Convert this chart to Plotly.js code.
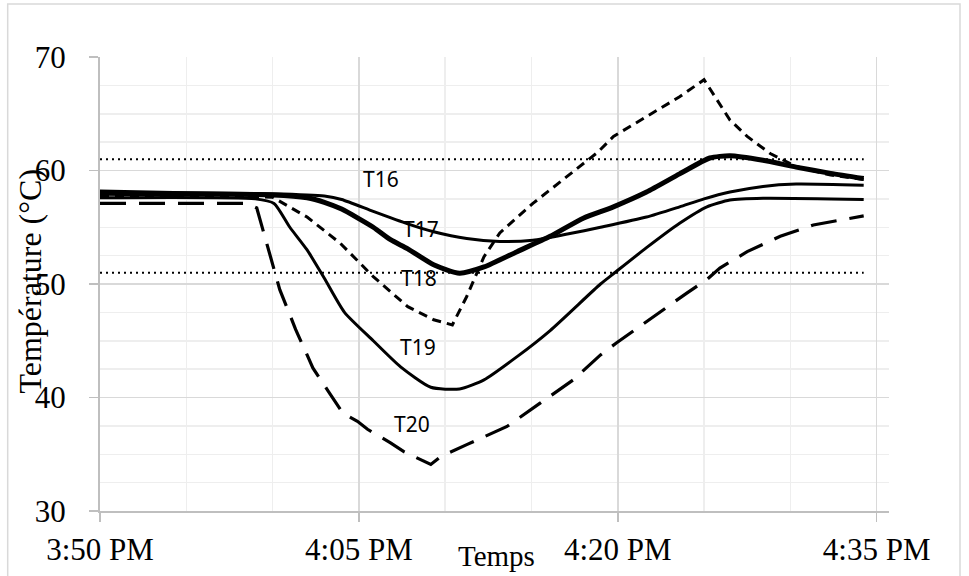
<!DOCTYPE html>
<html>
<head>
<meta charset="utf-8">
<script src="https://cdn.plot.ly/plotly-3.0.1.min.js"></script>
<style>html,body{margin:0;padding:0;background:#fff;}#chart{width:969px;height:576px;}</style>
</head>
<body>
<div id="chart"></div>
<script>
const DAY = '2000-01-01 ';

const seriesNames = ['T16', 'T17', 'T18', 'T19', 'T20'];

const t16 = ['15:50:00','15:55:00','16:00:00','16:03:00','16:04:00','16:05:50','16:07:50','16:09:20','16:11:15','16:13:10','16:15:05','16:17:05','16:19:00','16:21:40','16:23:35','16:25:00','16:26:30','16:28:25','16:30:20','16:34:15'];
const v16 = [58.2,58.05,57.95,57.75,57.45,56.4,55.3,54.6,54.0,53.75,53.85,54.4,55.0,55.9,56.8,57.5,58.1,58.6,58.8,58.7];

const t17 = ['15:50:00','16:00:00','16:02:00','16:03:00','16:04:00','16:05:50','16:06:50','16:07:50','16:09:20','16:10:50','16:12:15','16:14:10','16:16:05','16:18:00','16:19:45','16:21:40','16:23:35','16:25:20','16:26:30','16:28:25','16:30:20','16:32:20','16:34:15'];
const v17 = [58.0,57.85,57.6,57.2,56.6,55.0,53.9,53.1,51.7,50.95,51.5,52.85,54.2,55.8,56.8,58.1,59.7,61.1,61.3,60.9,60.3,59.75,59.3];

const t18 = ['15:50:00','16:00:00','16:02:00','16:03:55','16:05:50','16:07:50','16:09:20','16:10:25','16:11:15','16:12:15','16:13:10','16:15:05','16:17:05','16:18:50','16:19:45','16:21:40','16:23:35','16:25:00','16:25:30','16:26:30','16:27:30','16:28:50','16:30:20','16:32:20','16:34:15'];
const v18 = [57.8,57.65,55.9,53.6,50.65,48.0,46.85,46.4,48.9,52.4,54.5,57.1,59.5,61.6,63.0,64.75,66.5,68.0,66.8,64.45,63.0,61.5,60.35,59.6,59.2];

const t19 = ['15:50:00','15:59:00','16:00:05','16:01:00','16:02:00','16:03:00','16:04:10','16:05:50','16:07:25','16:09:10','16:10:50','16:12:15','16:14:10','16:16:05','16:19:00','16:19:45','16:21:40','16:23:35','16:25:10','16:26:30','16:28:25','16:34:15'];
const v19 = [57.6,57.5,57.1,55.0,53.0,50.5,47.5,45.0,42.7,40.9,40.75,41.55,43.6,45.9,50.0,50.9,53.2,55.35,56.8,57.4,57.55,57.45];

const t20 = ['15:50:00','15:58:30','15:59:05','16:00:10','16:00:25','16:01:00','16:01:20','16:02:00','16:02:20','16:03:15','16:03:45','16:04:05','16:04:55','16:05:30','16:06:50','16:07:35','16:09:10','16:09:45','16:11:15','16:13:35','16:15:30','16:17:25','16:19:00','16:19:55','16:24:00','16:25:10','16:25:55','16:27:30','16:29:25','16:31:20','16:34:15'];
const v20 = [57.1,57.1,56.7,50.65,49.5,47.3,46.0,43.75,42.6,40.5,39.35,38.6,37.9,37.2,36.0,35.25,34.1,34.8,35.85,37.45,39.5,41.55,43.75,44.8,49.2,50.4,51.4,52.85,54.2,55.2,56.0];

const refTimes = ['15:50:00','16:34:15'];
const refLevels = [61, 51];

const xTickStart = '15:50:00';
const xRangeEnd = '16:35:43';
const yRange = [30, 70];

const axisTitleX = 'Temps';
const axisTitleY = 'Température (°C)';

const toX = arr => arr.map(t => DAY + t);

const styles = [
  {width: 3, dash: 'solid', shape: 'spline'},
  {width: 5, dash: 'solid', shape: 'spline'},
  {width: 3, dash: '9px,6px', shape: 'linear'},
  {width: 3, dash: 'solid', shape: 'spline'},
  {width: 3.2, dash: '26px,13px', shape: 'linear'}
];
const allT = [t16, t17, t18, t19, t20];
const allV = [v16, v17, v18, v19, v20];

const traces = [];
refLevels.forEach(lv => {
  traces.push({
    x: toX(refTimes), y: refTimes.map(() => lv),
    mode: 'lines', type: 'scatter', hoverinfo: 'skip', showlegend: false,
    line: {color: '#000', width: 2, dash: '2px,4px'}
  });
});
seriesNames.forEach((nm, i) => {
  traces.push({
    name: nm, x: toX(allT[i]), y: allV[i], mode: 'lines', type: 'scatter', showlegend: false,
    line: {color: '#000', width: styles[i].width, dash: styles[i].dash, shape: styles[i].shape, smoothing: 0.6}
  });
});

const labelPos = [
  ['16:06:18', 59.23],
  ['16:08:37', 54.83],
  ['16:08:30', 50.52],
  ['16:08:26', 44.45],
  ['16:08:05', 37.67]
];
const annotations = seriesNames.map((nm, i) => ({
  x: DAY + labelPos[i][0], y: labelPos[i][1], xref: 'x', yref: 'y',
  text: nm, showarrow: false, xanchor: 'center', yanchor: 'middle',
  font: {family: 'Noto Sans, Open Sans, sans-serif', size: 21, color: '#000'}
}));
annotations.push({
  x: 0.5025, y: -0.099, xref: 'paper', yref: 'paper', text: axisTitleX, showarrow: false,
  xanchor: 'center', yanchor: 'middle',
  font: {family: 'Liberation Serif, Times New Roman, serif', size: 29, color: '#000'}
});
annotations.push({
  x: -0.089, y: 0.507, xref: 'paper', yref: 'paper', text: axisTitleY, showarrow: false,
  xanchor: 'center', yanchor: 'middle', textangle: -90,
  font: {family: 'Liberation Serif, Times New Roman, serif', size: 32, color: '#000'}
});

const layout = {
  width: 969, height: 576,
  margin: {l: 100, r: 80, t: 57, b: 65},
  paper_bgcolor: '#fff', plot_bgcolor: '#fff',
  showlegend: false,
  font: {family: 'Liberation Serif, Times New Roman, serif', color: '#000'},
  xaxis: {
    type: 'date',
    range: [DAY + xTickStart, DAY + xRangeEnd],
    tick0: DAY + xTickStart, dtick: 900000,
    tickformat: '%-I:%M %p',
    ticks: 'outside', ticklen: 9, tickwidth: 1.5, tickcolor: '#bfbfbf',
    ticklabelstandoff: 1,
    tickfont: {family: 'Liberation Serif, Times New Roman, serif', size: 31, color: '#000'},
    showline: true, linecolor: '#bfbfbf', linewidth: 2,
    showgrid: true, gridcolor: '#d9d9d9', gridwidth: 1.5,
    minor: {dtick: 300000, tick0: DAY + xTickStart, showgrid: true, gridcolor: '#eeeeee', gridwidth: 1.5, ticks: ''},
    zeroline: false, fixedrange: true
  },
  yaxis: {
    range: yRange, dtick: 10, tick0: 30,
    ticks: 'outside', ticklen: 9, tickwidth: 1.5, tickcolor: '#bfbfbf',
    ticklabelstandoff: 17,
    tickfont: {family: 'Liberation Serif, Times New Roman, serif', size: 31, color: '#000'},
    showline: true, linecolor: '#bfbfbf', linewidth: 2,
    showgrid: true, gridcolor: '#d9d9d9', gridwidth: 1.5,
    minor: {dtick: 2.5, showgrid: true, gridcolor: '#eeeeee', gridwidth: 1.5, ticks: ''},
    zeroline: false, fixedrange: true
  },
  shapes: [{
    type: 'rect', xref: 'paper', yref: 'paper', layer: 'below',
    x0: -0.117, x1: 1.090, y0: -0.3, y1: 1.117,
    line: {color: '#d9d9d9', width: 1.5}, fillcolor: 'rgba(0,0,0,0)'
  }],
  annotations: annotations
};

Plotly.newPlot('chart', traces, layout, {displayModeBar: false, staticPlot: true});
</script>
</body>
</html>
